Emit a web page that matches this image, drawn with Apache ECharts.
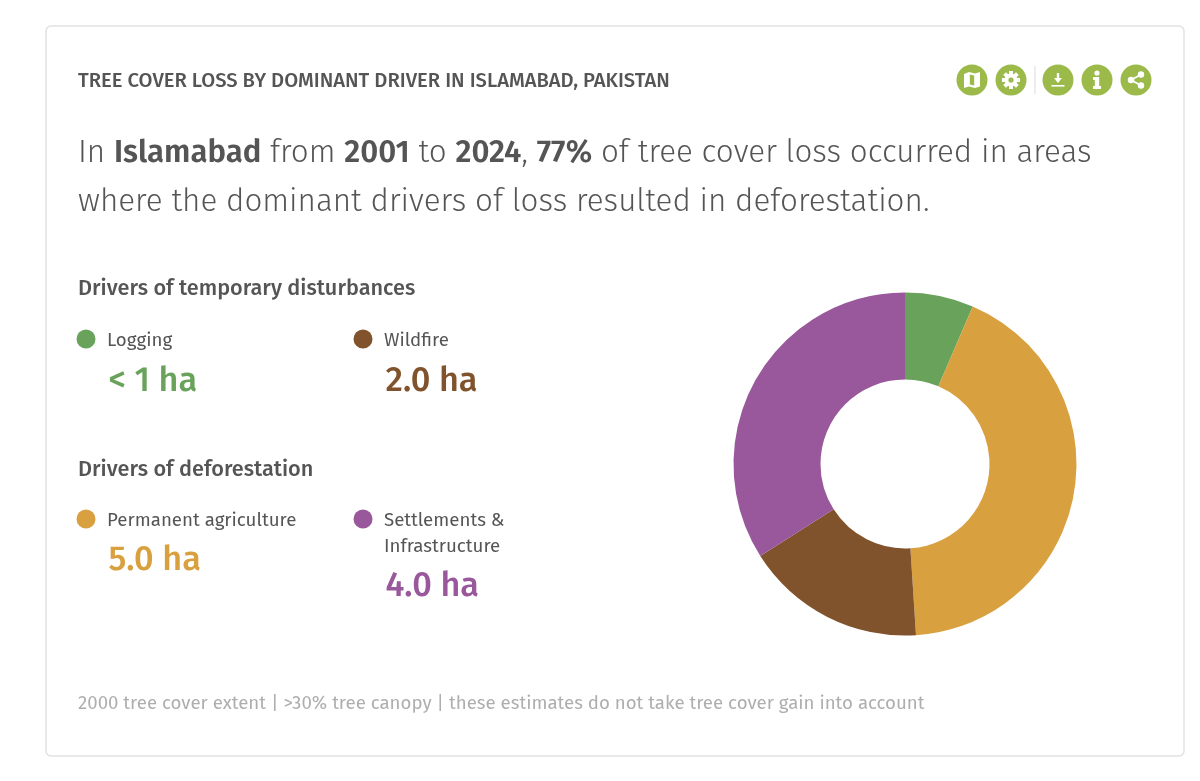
<!DOCTYPE html>
<html>
<head>
<meta charset="utf-8">
<style>
  html, body { margin: 0; padding: 0; background: #fff; }
  #chart { width: 1200px; height: 781px; }
</style>
<script src="https://cdn.jsdelivr.net/npm/echarts@6/dist/echarts.min.js"></script>
</head>
<body>
<div id="chart"></div>
<script>
// Loss by driver, in hectares; the logging share is below 1 ha and only stated as "< 1 ha".
const driverNames = ['Logging', 'Permanent agriculture', 'Wildfire', 'Settlements & Infrastructure'];
const driverValues = [0.76, 5.0, 2.0, 4.0];
const driverLabels = ['< 1 ha', '5.0 ha', '2.0 ha', '4.0 ha'];
const driverColors = ['#69a35b', '#d9a03f', '#80532c', '#99589b'];

const titleText = 'TREE COVER LOSS BY DOMINANT DRIVER IN ISLAMABAD, PAKISTAN';
const sentenceLines = [
  'In {b|Islamabad} from {b|2001} to {b|2024}, {b|77%} of tree cover loss occurred in areas',
  'where the dominant drivers of loss resulted in deforestation.'
];
const groupHeadings = ['Drivers of temporary disturbances', 'Drivers of deforestation'];
const footnote = '2000 tree cover extent | >30% tree canopy | these estimates do not take tree cover gain into account';

const FONT = '"Fira Sans", "Noto Sans", "Open Sans", sans-serif';
const TEXT = '#555555';
const ICON_GREEN = '#9bba4a';

function label(x, y, text, size, weight, fill, extra) {
  return {
    type: 'text', x: x, y: y, silent: true,
    style: Object.assign({
      text: text, fontFamily: FONT, fontSize: size, fontWeight: weight,
      fill: fill, verticalAlign: 'middle'
    }, extra || {})
  };
}

// One legend block: colour dot, name (one or two lines) and the amount below it.
const blocks = [
  { idx: 0, x: 86,  y: 339, lines: ['Logging'],  valueY: 381.5 },
  { idx: 2, x: 363, y: 339, lines: ['Wildfire'], valueY: 381.5 },
  { idx: 1, x: 86,  y: 519, lines: ['Permanent agriculture'], valueY: 560.5 },
  { idx: 3, x: 363, y: 519, lines: ['Settlements &', 'Infrastructure'], valueY: 586.5 }
];

const legendEls = [];
blocks.forEach(function (b) {
  legendEls.push({
    type: 'circle', silent: true,
    shape: { cx: b.x, cy: b.y, r: 9.5 },
    style: { fill: driverColors[b.idx] }
  });
  b.lines.forEach(function (line, i) {
    legendEls.push(label(b.x + 21, b.y + 2 + i * 26, line, 18.7, 400, TEXT));
  });
  legendEls.push(label(b.x + 22.5, b.valueY, driverLabels[b.idx], 34.3, 500, driverColors[b.idx]));
});

// Toolbar icons, each a group of white primitives on a green disc.
const W = { fill: '#fff' };
function disc(cx, children) {
  return {
    type: 'group', x: cx, y: 80, silent: true,
    children: [{ type: 'circle', shape: { cx: 0, cy: 0, r: 15.5 }, style: { fill: ICON_GREEN } }].concat(children)
  };
}
const gearTeeth = [0, 1, 2, 3].map(function (i) {
  return {
    type: 'rect', rotation: i * Math.PI / 4,
    shape: { x: -2, y: -9, width: 4, height: 18 }, style: W
  };
});
const icons = [
  disc(972, [
    { type: 'polygon', shape: { points: [[-8, -6], [-3, -8], [3, -6.5], [8, -8], [8, 6.5], [3, 8], [-3, 6.5], [-8, 8]] }, style: W },
    { type: 'polygon', shape: { points: [[-2.2, -5.6], [2.2, -4.4], [2.2, 5.6], [-2.2, 4.4]] }, style: { fill: ICON_GREEN } }
  ]),
  disc(1011, gearTeeth.concat([
    { type: 'circle', shape: { cx: 0, cy: 0, r: 6.5 }, style: W },
    { type: 'circle', shape: { cx: 0, cy: 0, r: 2.6 }, style: { fill: ICON_GREEN } }
  ])),
  disc(1058, [
    { type: 'rect', shape: { x: -1.2, y: -7, width: 2.4, height: 6 }, style: W },
    { type: 'polygon', shape: { points: [[-4, -2], [4, -2], [0, 3]] }, style: W },
    { type: 'rect', shape: { x: -6.5, y: 5, width: 13, height: 1.6 }, style: W }
  ]),
  disc(1097, [
    { type: 'circle', shape: { cx: 0, cy: -7, r: 2.6 }, style: W },
    { type: 'polygon', shape: { points: [[-4, -3], [2.2, -3], [2.2, 6], [4, 6], [4, 9], [-4, 9], [-4, 6], [-2.2, 6], [-2.2, 0], [-4, 0]] }, style: W }
  ]),
  disc(1136, [
    { type: 'line', shape: { x1: -5, y1: 0, x2: 5, y2: -5.5 }, style: { stroke: '#fff', lineWidth: 1.8 } },
    { type: 'line', shape: { x1: -5, y1: 0, x2: 5, y2: 5.5 }, style: { stroke: '#fff', lineWidth: 1.8 } },
    { type: 'circle', shape: { cx: -5, cy: 0, r: 3.2 }, style: W },
    { type: 'circle', shape: { cx: 5, cy: -5.5, r: 3.2 }, style: W },
    { type: 'circle', shape: { cx: 5, cy: 5.5, r: 3.2 }, style: W }
  ])
];

const graphics = [
  // Card outline
  {
    type: 'rect', z: -1, silent: true,
    shape: { x: 46, y: 26, width: 1138, height: 730, r: 5 },
    style: { fill: '#fff', stroke: '#e2e2e2', lineWidth: 1.5 }
  },
  label(78, 81.5, titleText, 20.2, 500, TEXT),
  { type: 'rect', silent: true, shape: { x: 1034.5, y: 66, width: 1, height: 28 }, style: { fill: '#dcdcdc' } },
  label(78, 153, sentenceLines[0], 31.4, 300, TEXT, {
    rich: { b: { fontFamily: FONT, fontSize: 31.1, fontWeight: 600, fill: TEXT } }
  }),
  label(78, 202, sentenceLines[1], 31.4, 300, TEXT),
  label(78, 289, groupHeadings[0], 21.7, 500, TEXT),
  label(78, 469.5, groupHeadings[1], 21.7, 500, TEXT),
  label(78, 704, footnote, 18.65, 400, '#aeaeae')
].concat(legendEls, icons);

const chart = echarts.init(document.getElementById('chart'), null, { renderer: 'canvas' });
chart.setOption({
  animation: false,
  backgroundColor: '#fff',
  graphic: { elements: graphics },
  series: [{
    type: 'pie',
    center: [905, 464],
    radius: [84.5, 171.5],
    startAngle: 90,
    clockwise: true,
    silent: true,
    label: { show: false },
    labelLine: { show: false },
    data: driverNames.map(function (name, i) {
      return { name: name, value: driverValues[i], itemStyle: { color: driverColors[i] } };
    })
  }]
});
</script>
</body>
</html>
